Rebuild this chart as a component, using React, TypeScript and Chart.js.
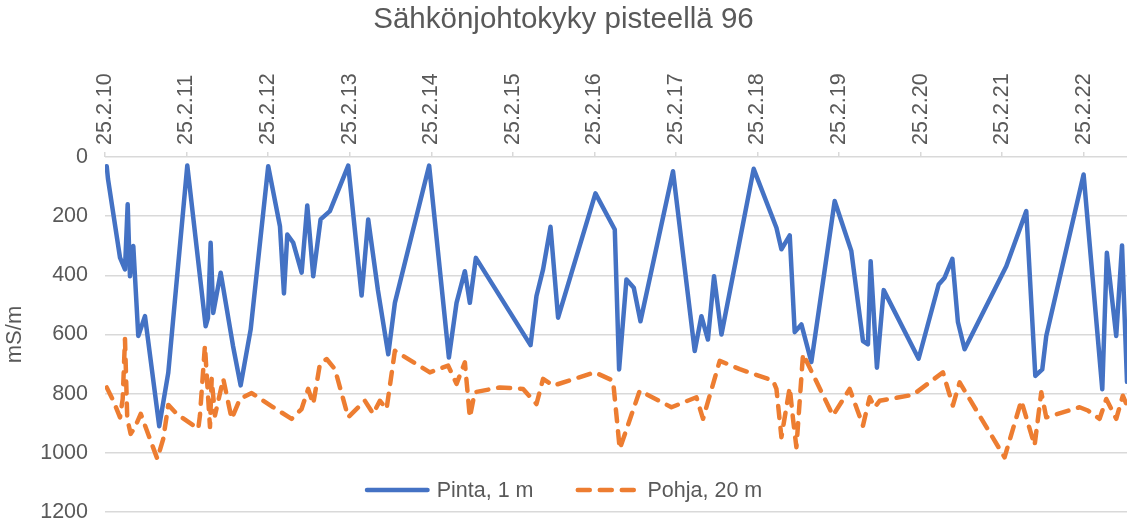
import React, { useEffect, useRef } from 'react';
import { Chart, registerables } from 'chart.js';

Chart.register(...registerables);

// ---- data ----
const chartTitle = 'Sähkönjohtokyky pisteellä 96';
const yAxisTitle = 'mS/m';
const dateLabels = [
  '25.2.10', '25.2.11', '25.2.12', '25.2.13', '25.2.14', '25.2.15', '25.2.16',
  '25.2.17', '25.2.18', '25.2.19', '25.2.20', '25.2.21', '25.2.22',
];
const firstDay = 10;
const lastDay = 22.53;
const yMin = 0;
const yMax = 1200;
const yStep = 200;

const pintaLabel = 'Pinta, 1 m';
const pintaDays = [
  10.021, 10.037, 10.184, 10.245, 10.278, 10.306, 10.347, 10.408, 10.49, 10.665, 10.776,
  11.009, 11.234, 11.262, 11.295, 11.327, 11.418, 11.569, 11.663, 11.786,
  12.001, 12.145, 12.194, 12.235, 12.308, 12.411, 12.48, 12.553, 12.643, 12.757, 12.982,
  13.146, 13.227, 13.346, 13.473, 13.554, 13.974,
  14.216, 14.31, 14.412, 14.473, 14.547,
  15.217, 15.29, 15.371, 15.462, 15.555,
  16.013, 16.25, 16.303, 16.393, 16.483, 16.565, 16.964,
  17.23, 17.312, 17.392, 17.467, 17.558, 17.953,
  18.232, 18.293, 18.395, 18.456, 18.538, 18.66, 18.946,
  19.15, 19.293, 19.354, 19.387, 19.464, 19.547, 19.975,
  20.221, 20.294, 20.389, 20.457, 20.539,
  21.05, 21.295, 21.406, 21.491, 21.54, 21.998,
  22.227, 22.283, 22.398, 22.469, 22.53,
];
const pintaValues = [
  31, 75, 340, 380, 160, 403, 301, 605, 538, 910, 729,
  29, 572, 545, 290, 527, 391, 638, 772, 583,
  31, 234, 461, 262, 290, 391, 164, 403, 211, 183, 29,
  468, 211, 450, 667, 493, 29,
  678, 493, 386, 493, 341,
  636, 470, 380, 236, 543,
  123, 245, 718, 414, 442, 555, 48,
  656, 538, 617, 403, 600, 40,
  239, 312, 265, 592, 566, 693, 149,
  318, 622, 633, 352, 712, 450, 682,
  431, 408, 344, 558, 650,
  369, 183, 740, 718, 605, 59,
  785, 324, 605, 299, 760,
];

const pohjaLabel = 'Pohja, 20 m';
const pohjaDays = [
  10.021, 10.102, 10.184, 10.217, 10.245, 10.273, 10.315, 10.368, 10.438, 10.551, 10.641,
  10.714, 10.776, 10.879,
  11.143, 11.164, 11.225, 11.287, 11.308, 11.348, 11.45, 11.553, 11.654, 11.798,
  12.063, 12.288, 12.41, 12.491, 12.553, 12.635, 12.717, 12.819, 12.982,
  13.186, 13.288, 13.37, 13.452, 13.554, 13.983,
  14.207, 14.31, 14.412, 14.473, 14.534, 14.841,
  15.126, 15.29, 15.371, 15.494,
  16.005, 16.229, 16.311, 16.556, 16.945,
  17.251, 17.332, 17.537, 17.782,
  18.19, 18.232, 18.293, 18.395, 18.435, 18.477, 18.558, 18.925,
  19.13, 19.293, 19.375, 19.436, 19.497, 19.906,
  20.273, 20.395, 20.478,
  21.029, 21.234, 21.397, 21.479, 21.54, 21.949,
  22.05, 22.194, 22.276, 22.398, 22.479, 22.53,
];
const pohjaValues = [
  779, 824, 880, 818, 615, 885, 936, 913, 868, 953, 1020,
  953, 838, 868,
  919, 874, 638, 913, 750, 874, 750, 885, 818, 798,
  846, 885, 852, 784, 835, 700, 683, 717, 880,
  824, 868, 824, 852, 655, 728,
  705, 767, 694, 880, 795, 779,
  784, 835, 750, 773,
  728, 756, 987, 790, 846,
  812, 885, 689, 717,
  756, 784, 947, 779, 885, 981, 666, 874,
  784, 908, 812, 846, 824, 804,
  728, 840, 762,
  1015, 824, 975, 795, 880, 846,
  857, 885, 818, 885, 807, 840,
];

// ---- styles ----
const FONT = '"Liberation Sans", Arial, Helvetica, sans-serif';
const TEXT = '#595959';
const GRID = '#d9d9d9';
const BLUE = '#4472C4';
const ORANGE = '#ED7D31';
const TICK_SIZE = 21.5;

const insideLegend = {
  id: 'insideLegend',
  afterDraw(chart: any) {
    const ctx = chart.ctx as CanvasRenderingContext2D;
    const area = chart.chartArea;
    const y = area.bottom - 22;
    const sampleLen = 65;
    const sampleGap = 7;
    const itemGap = 42;
    ctx.save();
    ctx.font = `${TICK_SIZE}px ${FONT}`;
    const items = chart.data.datasets.map((ds: any) => ({
      label: ds.label as string,
      color: ds.borderColor as string,
      dash: (ds.borderDash || []) as number[],
      width: ds.borderWidth as number,
      textW: ctx.measureText(ds.label).width,
    }));
    let total = 0;
    items.forEach((it: any, i: number) => {
      total += sampleLen + sampleGap + it.textW + (i > 0 ? itemGap : 0);
    });
    let x = chart.width / 2 - total / 2;
    items.forEach((it: any, i: number) => {
      if (i > 0) x += itemGap;
      ctx.beginPath();
      ctx.setLineDash(it.dash);
      ctx.lineCap = 'round';
      ctx.lineWidth = it.width;
      ctx.strokeStyle = it.color;
      ctx.moveTo(x + it.width / 2, y);
      ctx.lineTo(x + sampleLen - it.width / 2, y);
      ctx.stroke();
      ctx.setLineDash([]);
      x += sampleLen + sampleGap;
      ctx.fillStyle = TEXT;
      ctx.textAlign = 'left';
      ctx.textBaseline = 'middle';
      ctx.fillText(it.label, x, y + 1);
      x += it.textW;
    });
    ctx.restore();
  },
};

export default function App() {
  const canvasRef = useRef<HTMLCanvasElement | null>(null);

  useEffect(() => {
    document.body.style.margin = '0';
    const canvas = canvasRef.current;
    if (!canvas) return;
    const pinta = pintaDays.map((d, i) => ({ x: d, y: pintaValues[i] }));
    const pohja = pohjaDays.map((d, i) => ({ x: d, y: pohjaValues[i] }));
    const tickFont = { family: FONT, size: TICK_SIZE };
    const chart = new Chart(canvas, {
      type: 'line',
      data: {
        datasets: [
          {
            label: pintaLabel,
            data: pinta,
            borderColor: BLUE,
            backgroundColor: BLUE,
            borderWidth: 4.5,
            pointRadius: 0,
            tension: 0,
            borderJoinStyle: 'round',
            borderCapStyle: 'round',
            fill: false,
            order: 1,
          },
          {
            label: pohjaLabel,
            data: pohja,
            borderColor: ORANGE,
            backgroundColor: ORANGE,
            borderWidth: 4.5,
            borderDash: [12, 10],
            pointRadius: 0,
            tension: 0,
            borderJoinStyle: 'round',
            borderCapStyle: 'round',
            fill: false,
            order: 0,
          },
        ],
      },
      options: {
        animation: false,
        responsive: false,
        layout: { padding: { left: 0, right: 0, top: 0, bottom: 12 } },
        plugins: {
          legend: { display: false },
          tooltip: { enabled: false },
          title: {
            display: true,
            text: chartTitle,
            color: TEXT,
            font: { family: FONT, size: 29.5, weight: 'normal' },
            padding: { top: 2, bottom: 0 },
          },
        },
        scales: {
          x: {
            type: 'linear',
            position: 'top',
            min: firstDay,
            max: lastDay,
            grid: { drawOnChartArea: false, drawTicks: true, tickLength: 5, color: GRID, lineWidth: 1.5 },
            border: { display: false },
            ticks: {
              stepSize: 1,
              autoSkip: false,
              maxRotation: 90,
              minRotation: 90,
              padding: 7,
              labelOffset: 25.8,
              color: TEXT,
              font: tickFont,
              callback: (v: any) => dateLabels[Math.round(Number(v)) - firstDay] ?? '',
            },
            afterBuildTicks: (scale: any) => {
              scale.ticks = scale.ticks.filter((t: any) => Math.abs(t.value - Math.round(t.value)) < 1e-6);
            },
            afterFit: (scale: any) => {
              scale.height = 119.6;
            },
          },
          y: {
            reverse: true,
            min: yMin,
            max: yMax,
            ticks: {
              stepSize: yStep,
              padding: 0,
              color: TEXT,
              font: tickFont,
              callback: (v: any) => String(v),
            },
            grid: { drawTicks: true, tickLength: 17, tickColor: 'rgba(0,0,0,0)', color: GRID, lineWidth: 1.5 },
            border: { display: false },
            title: {
              display: true,
              text: yAxisTitle,
              color: TEXT,
              font: { family: FONT, size: 22 },
              padding: { top: 2, bottom: 0 },
            },
            afterFit: (scale: any) => {
              scale.width = 105;
              scale.paddingBottom = 12;
              scale.paddingTop = 12;
            },
          },
        },
      } as any,
      plugins: [insideLegend],
    });
    return () => chart.destroy();
  }, []);

  return (
    <div style={{ width: 1127, height: 524 }}>
      <canvas ref={canvasRef} width={1127} height={524} style={{ display: 'block' }} />
    </div>
  );
}
